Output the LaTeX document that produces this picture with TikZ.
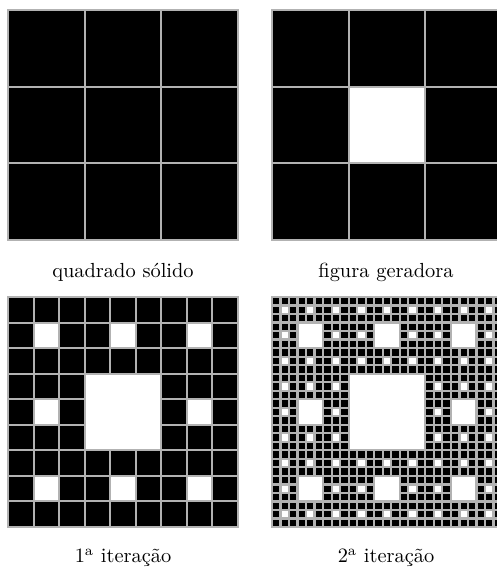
\documentclass[tikz,border=0pt]{standalone}
\usepackage{tikz}

% one cell of a carpet
\tikzset{cell/.style={fill=black,draw=gray!60,line width=1pt}}

% #1,#2 corner, #3 cells per side, #4 levels with holes
\newcommand{\drawcarpet}[4]{%
  \pgfmathsetmacro{\cw}{230/#3}
  \pgfmathtruncatemacro{\last}{#3-1}
  \foreach \i in {0,...,\last} \foreach \j in {0,...,\last} {
    \pgfmathtruncatemacro{\hole}{(#4>0)*(mod(\i,3)==1)*(mod(\j,3)==1)
      + (#4>1)*(mod(int(\i/3),3)==1)*(mod(int(\j/3),3)==1)
      + (#4>2)*(mod(int(\i/9),3)==1)*(mod(int(\j/9),3)==1)}
    \ifnum\hole=0 \draw[cell] ({#1+\i*\cw},{#2+\j*\cw}) rectangle ++(\cw,\cw); \fi
  }}

\begin{document}
\begin{tikzpicture}[x=0.49pt,y=-0.49pt]
			\clip (0,0) rectangle (497,570);
			% solid square
			\drawcarpet{8}{10}{3}{0}
			\node (solid) at (123,272) {quadrado sólido};
			% generator
			\drawcarpet{272}{10}{3}{1}
			\node (gen) at (386,272) {figura geradora};
			% first iteration
			\drawcarpet{8}{297}{9}{2}
			\node (first) at (123,558) {1\textsuperscript{a} iteração};
			% second iteration
			\begin{scope}[cell/.append style={line width=1.1pt}]
			\drawcarpet{272}{297}{27}{3}
			\end{scope}
			\node (second) at (386,558) {2\textsuperscript{a} iteração};
		\end{tikzpicture}
\end{document}
